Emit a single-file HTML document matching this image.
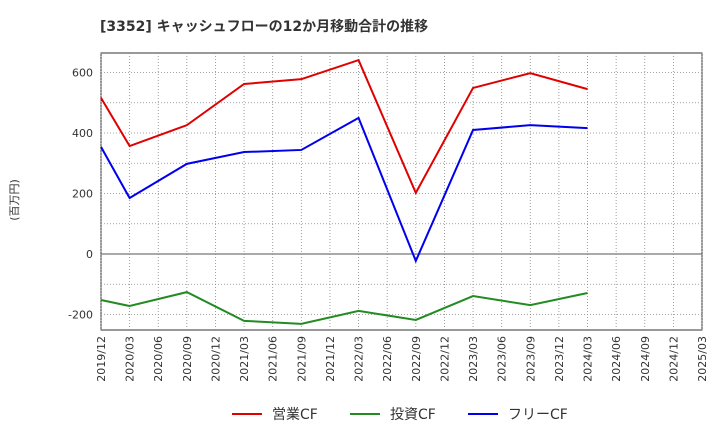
<!DOCTYPE html>
<html><head><meta charset="utf-8"><style>
body{margin:0;background:#fff;font-family:"DejaVu Sans","Noto Sans CJK JP",sans-serif}
</style></head><body>
<svg id="c" width="720" height="440" xmlns="http://www.w3.org/2000/svg" font-family="DejaVu Sans, Noto Sans CJK JP, sans-serif">
<text x="100" y="31" font-size="14" font-weight="bold" fill="#333">[3352]  キャッシュフローの12か月移動合計の推移</text>
<text x="18" y="200" font-size="11" fill="#333" transform="rotate(-90 18 200)" text-anchor="middle">(百万円)</text>
<g id="plot"></g>
</svg>
<script>
const xLabels=["2019/12","2020/03","2020/06","2020/09","2020/12","2021/03","2021/06","2021/09","2021/12","2022/03","2022/06","2022/09","2022/12","2023/03","2023/06","2023/09","2023/12","2024/03","2024/06","2024/09","2024/12","2025/03"];
const yTicks=[-200,0,200,400,600];
const pointIdx=[0,1,3,5,7,9,11,13,15,17];
const opCF=[516,357,426,562,578,641,202,549,598,545];
const invCF=[-152,-172,-126,-221,-231,-188,-218,-139,-169,-129];
const freeCF=[354,185,298,337,344,450,-23,410,426,416];
const series=[{name:"営業CF",vals:opCF,color:"#e00000",key:"operating-cf"},{name:"投資CF",vals:invCF,color:"#228b22",key:"investing-cf"},{name:"フリーCF",vals:freeCF,color:"#0000ee",key:"free-cf"}];
const L=101,R=702,T=53,B=330;
const xs=i=>L+i*(R-L)/(xLabels.length-1);
const ys=v=>254-v*0.3025;
const g=document.getElementById('plot');const NS="http://www.w3.org/2000/svg";
function mk(t,a,p){const e=document.createElementNS(NS,t);for(const k in a)e.setAttribute(k,a[k]);(p||g).appendChild(e);return e;}
mk('rect',{x:L,y:T,width:R-L,height:B-T,fill:'#fff',stroke:'#333','stroke-width':1});
for(let v=-200;v<=600;v+=100){const l=mk('line',{x1:L,x2:R,y1:ys(v),y2:ys(v),stroke:v===0?'#555':'#888','stroke-width':v===0?1:0.8,'stroke-dasharray':v===0?'':'1,2'});
}
xLabels.forEach((s,i)=>{const x=xs(i);const l=mk('line',{x1:x,x2:x,y1:T,y2:B,stroke:'#888','stroke-width':0.8,'stroke-dasharray':'1,2'});

const t=mk('text',{x:x+4,y:B+6,'font-size':11,fill:'#333','text-anchor':'end',transform:`rotate(-90 ${x+4} ${B+6})`});t.textContent=s;
});
yTicks.forEach(v=>{const t=mk('text',{x:L-8,y:ys(v)+4,'font-size':11,fill:'#333','text-anchor':'end'});t.textContent=v;
});
series.forEach((s,k)=>{const pts=s.vals.map((v,i)=>xs(pointIdx[i])+','+ys(v)).join(' ');
const p=mk('polyline',{points:pts,fill:'none',stroke:s.color,'stroke-width':2});

const lx=[232,350,468][k];
const ll=mk('line',{x1:lx,x2:lx+30,y1:414,y2:414,stroke:s.color,'stroke-width':2});

const lt=mk('text',{x:lx+40,y:419,'font-size':14,fill:'#333'});lt.textContent=s.name;
});
</script>
</body></html>
